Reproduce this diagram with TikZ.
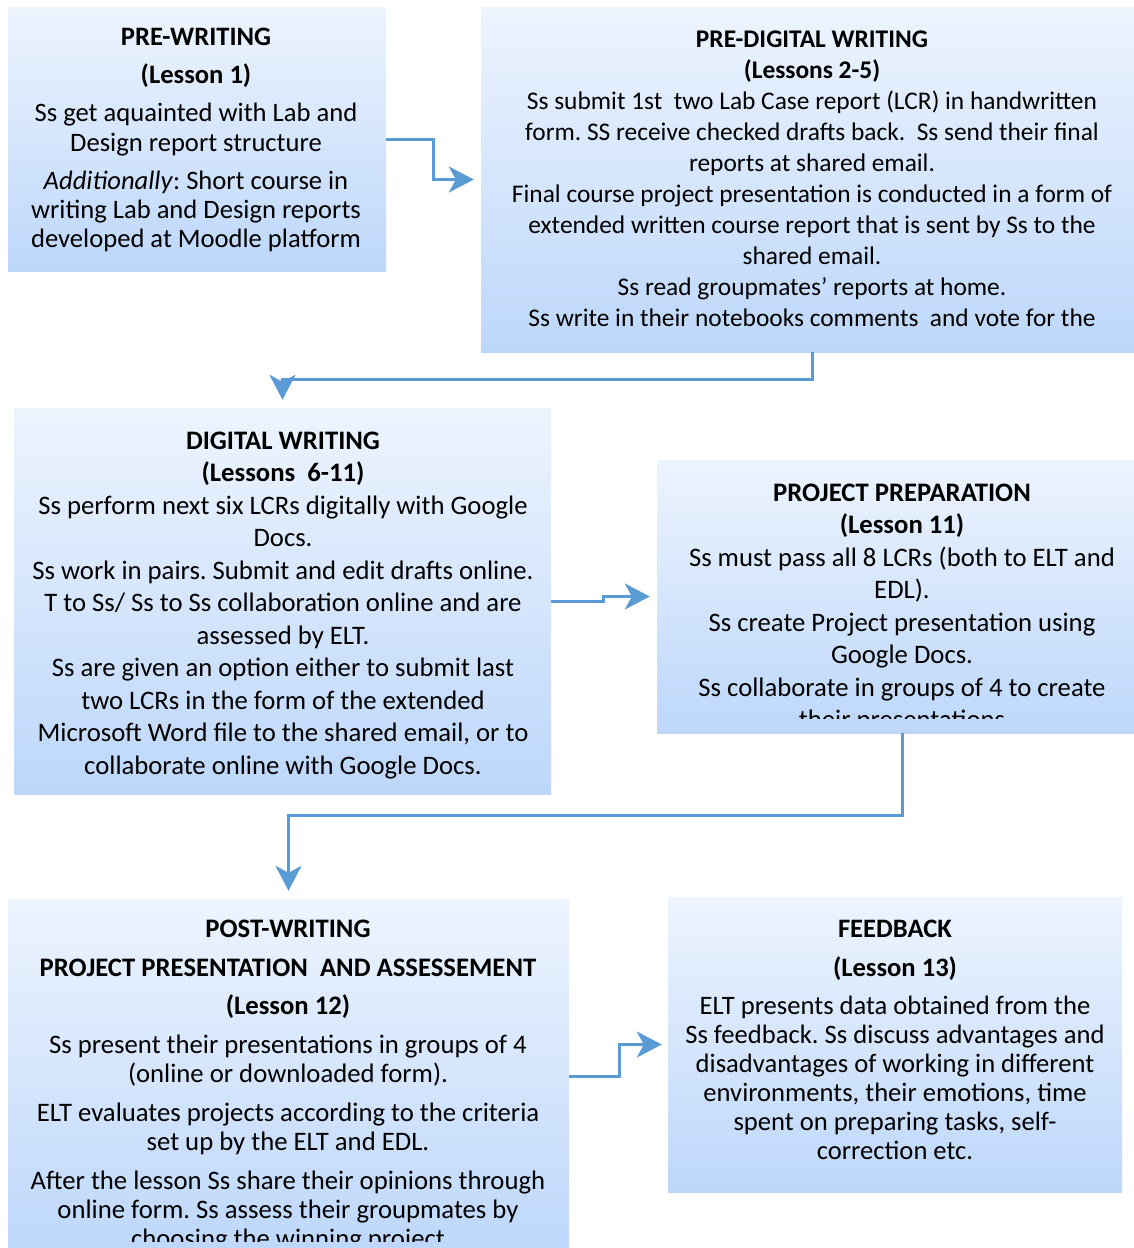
\documentclass[tikz,border=0pt]{standalone}
\usepackage{fontspec}
\setmainfont{Carlito}
\usetikzlibrary{arrows.meta}
\frenchspacing
\definecolor{arrowblue}{RGB}{91,155,213}
\definecolor{boxtop}{RGB}{237,244,254}
\definecolor{boxbot}{RGB}{189,215,251}
\tikzset{
  boxnode/.style={rectangle, inner sep=0pt, draw=none, top color=boxtop, bottom color=boxbot},
  txt/.style={anchor=base, inner sep=0pt},
  arr/.style={draw=arrowblue, line width=3pt, -{Stealth[length=25pt,width=26pt,inset=7pt]}}
}
\begin{document}
\begin{tikzpicture}[x=1pt,y=-1pt]
\useasboundingbox (0,0) rectangle (1134,1248);
% boxes
\node[boxnode, minimum width=378pt, minimum height=264pt] (b1) at (197,139) {};
\node[boxnode, minimum width=662pt, minimum height=345pt] (b2) at (812,179.5) {};
\node[boxnode, minimum width=537pt, minimum height=386pt] (b3) at (282.5,601) {};
\node[boxnode, minimum width=490pt, minimum height=273pt] (b4) at (902,596.5) {};
\node[boxnode, minimum width=561pt, minimum height=354pt] (b5) at (288.5,1076) {};
\node[boxnode, minimum width=454pt, minimum height=295pt] (b6) at (895,1044.5) {};
% texts
\node[txt] (t1) at (196,45) {\parbox[t]{374pt}{\centering\fontsize{26.6}{29.2}\selectfont
\textbf{PRE-WRITING}\\[9.6pt]
\textbf{(Lesson 1)}\\[8.8pt]
Ss get aquainted with Lab and\\
Design report structure\\[8.8pt]
\textit{Additionally}: Short course in\\
writing Lab and Design reports\\
developed at Moodle platform}};
\begin{scope}
\clip (481,20) rectangle (1143,337);
\node[txt] (t2) at (812,47) {\parbox[t]{655pt}{\centering\fontsize{25.4}{31}\selectfont
\textbf{PRE-DIGITAL WRITING}\\
\textbf{(Lessons 2-5)}\\
Ss submit 1st\ \ two Lab Case report (LCR) in handwritten\\
form. SS receive checked drafts back.\ \ Ss send their final\\
reports at shared email.\\
Final course project presentation is conducted in a form of\\
extended written course report that is sent by Ss to the\\
shared email.\\
Ss read groupmates’ reports at home.\\
Ss write in their notebooks comments\ \ and vote for the}};
\end{scope}
\node[txt] (t3) at (283,449) {\parbox[t]{535pt}{\centering\fontsize{26.7}{32.5}\selectfont
\textbf{DIGITAL WRITING}\\
\textbf{(Lessons\ \ 6-11)}\\
Ss perform next six LCRs digitally with Google\\
Docs.\\
Ss work in pairs. Submit and edit drafts online.\\
T to Ss/ Ss to Ss collaboration online and are\\
assessed by ELT.\\
Ss are given an option either to submit last\\
two LCRs in the form of the extended\\
Microsoft Word file to the shared email, or to\\
collaborate online with Google Docs.}};
\begin{scope}
\clip (657,470) rectangle (1147,718);
\node[txt] (t4) at (902,501) {\parbox[t]{488pt}{\centering\fontsize{26.7}{32.5}\selectfont
\textbf{PROJECT PREPARATION}\\
\textbf{(Lesson 11)}\\
Ss must pass all 8 LCRs (both to ELT and\\
EDL).\\
Ss create Project presentation using\\
Google Docs.\\
Ss collaborate in groups of 4 to create\\
their presentations}};
\end{scope}
\begin{scope}
\clip (8,905) rectangle (569,1241);
\node[txt] (t5) at (288,937) {\parbox[t]{560pt}{\centering\fontsize{26.7}{29}\selectfont
\textbf{POST-WRITING}\\[10pt]
\textbf{PROJECT PRESENTATION\ \ AND ASSESSEMENT}\\[9pt]
\textbf{(Lesson 12)}\\[10pt]
Ss present their presentations in groups of 4\\
(online or downloaded form).\\[10pt]
ELT evaluates projects according to the criteria\\
set up by the ELT and EDL.\\[10pt]
After the lesson Ss share their opinions through\\
online form. Ss assess their groupmates by\\
choosing the winning project}};
\end{scope}
\node[txt] (t6) at (895,937) {\parbox[t]{452pt}{\centering\fontsize{26.6}{29}\selectfont
\textbf{FEEDBACK}\\[10pt]
\textbf{(Lesson 13)}\\[9pt]
ELT presents data obtained from the\\
Ss feedback. Ss discuss advantages and\\
disadvantages of working in different\\
environments, their emotions, time\\
spent on preparing tasks, self-\\
correction etc.}};
% connectors
\draw[arr] (b1.east) -- ++(47,0) |- ([xshift=-7pt]b2.west);
\draw[arr] (b2.south) |- ([yshift=28pt]b3.north) -- ([yshift=8pt]b3.north);
\draw[arr] (b3.east) -- ++(52,0) |- ([xshift=-7pt]b4.west);
\draw[arr] (b4.south) |- ([yshift=83pt]b5.north) -- ([yshift=8pt]b5.north);
\draw[arr] (b5.east) -- ++(50,0) |- ([xshift=-6pt]b6.west);
\end{tikzpicture}
\end{document}
